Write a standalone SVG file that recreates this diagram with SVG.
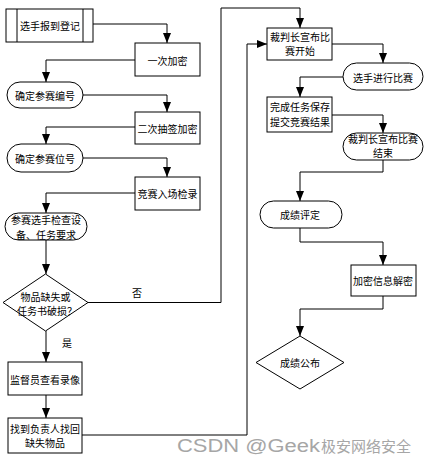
<svg xmlns="http://www.w3.org/2000/svg" width="428" height="465" viewBox="0 0 428 465">
<style>
.n{fill:#fff;stroke:#000;stroke-width:1}
.t{font-family:"Noto Sans CJK SC","Noto Sans",sans-serif;font-size:10px;fill:#000;text-anchor:middle;dominant-baseline:central}
.c{fill:none;stroke:#000;stroke-width:1}
.wm{font-family:"Liberation Sans","Noto Sans CJK SC",sans-serif;fill:#a6a6a6}
</style>
<defs>
<marker id="ah" markerUnits="userSpaceOnUse" markerWidth="10" markerHeight="8" refX="10" refY="4" orient="auto">
<path d="M0,0 L10,4 L0,8 z" fill="#000"/>
</marker>
</defs>
<rect width="428" height="465" fill="#fff"/>
<g id="connectors">
<path class="c" d="M93,24 H167 V43" marker-end="url(#ah)"/>
<path class="c" d="M135,60 H46 V82" marker-end="url(#ah)"/>
<path class="c" d="M83,95 H167 V112" marker-end="url(#ah)"/>
<path class="c" d="M135,127 H46 V144" marker-end="url(#ah)"/>
<path class="c" d="M83,158 H167 V177" marker-end="url(#ah)"/>
<path class="c" d="M135,193 H46 V213" marker-end="url(#ah)"/>
<path class="c" d="M46,240 V274" marker-end="url(#ah)"/>
<path class="c" d="M88,302.5 H221 V8 H300 V28" marker-end="url(#ah)"/>
<path class="c" d="M46,331 V362" marker-end="url(#ah)"/>
<path class="c" d="M46,395 V418" marker-end="url(#ah)"/>
<path class="c" d="M82,435 H247 V44 H267" marker-end="url(#ah)"/>
<path class="c" d="M332,44 H383 V63" marker-end="url(#ah)"/>
<path class="c" d="M343,77 H300 V97" marker-end="url(#ah)"/>
<path class="c" d="M332,115 H383 V133" marker-end="url(#ah)"/>
<path class="c" d="M383,160 V172 H300 V201" marker-end="url(#ah)"/>
<path class="c" d="M300,228 V242 H383 V265" marker-end="url(#ah)"/>
<path class="c" d="M383,296 V309 H300 V336" marker-end="url(#ah)"/>
<text class="t" x="137" y="292">否</text>
<text class="t" x="67" y="342">是</text>
</g>
<g id="n1">
<rect class="n" x="6" y="9" width="87" height="33"/>
<path class="c" d="M17,9 V42 M83,9 V42"/>
<text class="t" x="50" y="25">选手报到登记</text>
</g>
<g id="n2">
<rect class="n" x="135" y="43" width="65" height="33"/>
<text class="t" x="167.5" y="60">一次加密</text>
</g>
<g id="n3">
<rect class="n" x="7" y="82" width="76" height="26" rx="13"/>
<text class="t" x="45" y="95">确定参赛编号</text>
</g>
<g id="n4">
<rect class="n" x="135" y="112" width="65" height="32"/>
<text class="t" x="167.5" y="128">二次抽签加密</text>
</g>
<g id="n5">
<rect class="n" x="7" y="144" width="76" height="28" rx="14"/>
<text class="t" x="45" y="158">确定参赛位号</text>
</g>
<g id="n6">
<rect class="n" x="135" y="177" width="65" height="33"/>
<text class="t" x="167.5" y="193">竞赛入场检录</text>
</g>
<g id="n7">
<rect class="n" x="5" y="213" width="82" height="27" rx="13.5"/>
<text class="t" x="46" y="219.5">参赛选手检查设</text>
<text class="t" x="46" y="234">备、任务要求</text>
</g>
<g id="n8">
<polygon class="n" points="45.5,274 88,302.5 45.5,331 3,302.5"/>
<text class="t" x="45.5" y="296">物品缺失或</text>
<text class="t" x="47" y="310.5">任务书破损？</text>
</g>
<g id="n9">
<rect class="n" x="8" y="362" width="74" height="33"/>
<text class="t" x="45" y="379">监督员查看录像</text>
</g>
<g id="n10">
<rect class="n" x="8" y="418" width="74" height="35"/>
<text class="t" x="45" y="428">找到负责人找回</text>
<text class="t" x="45" y="442.5">缺失物品</text>
</g>
<g id="n11">
<rect class="n" x="267" y="28" width="65" height="32"/>
<text class="t" x="300" y="36">裁判长宣布比</text>
<text class="t" x="300" y="50.5">赛开始</text>
</g>
<g id="n12">
<rect class="n" x="343" y="63" width="80" height="27" rx="13.5"/>
<text class="t" x="383" y="77">选手进行比赛</text>
</g>
<g id="n13">
<rect class="n" x="267" y="97" width="65" height="35"/>
<text class="t" x="300" y="106.5">完成任务保存</text>
<text class="t" x="300" y="121">提交竞赛结果</text>
</g>
<g id="n14">
<rect class="n" x="343" y="133" width="80" height="27" rx="13.5"/>
<text class="t" x="383" y="138">裁判长宣布比赛</text>
<text class="t" x="383" y="152.5">结束</text>
</g>
<g id="n15">
<rect class="n" x="260" y="201" width="82" height="27" rx="13.5"/>
<text class="t" x="300" y="214">成绩评定</text>
</g>
<g id="n16">
<rect class="n" x="351" y="265" width="65" height="31"/>
<text class="t" x="383" y="280">加密信息解密</text>
</g>
<g id="n17">
<polygon class="n" points="300,336 344,362.5 300,389 256,362.5"/>
<text class="t" x="300" y="362">成绩公布</text>
</g>
<g id="watermark">
<text class="wm" x="177" y="452" font-size="18" textLength="143" lengthAdjust="spacingAndGlyphs">CSDN @Geek</text>
<text class="wm" x="321" y="452" font-size="15" textLength="90" lengthAdjust="spacingAndGlyphs" font-family="Noto Sans CJK SC, sans-serif">极安网络安全</text>
</g>
</svg>
